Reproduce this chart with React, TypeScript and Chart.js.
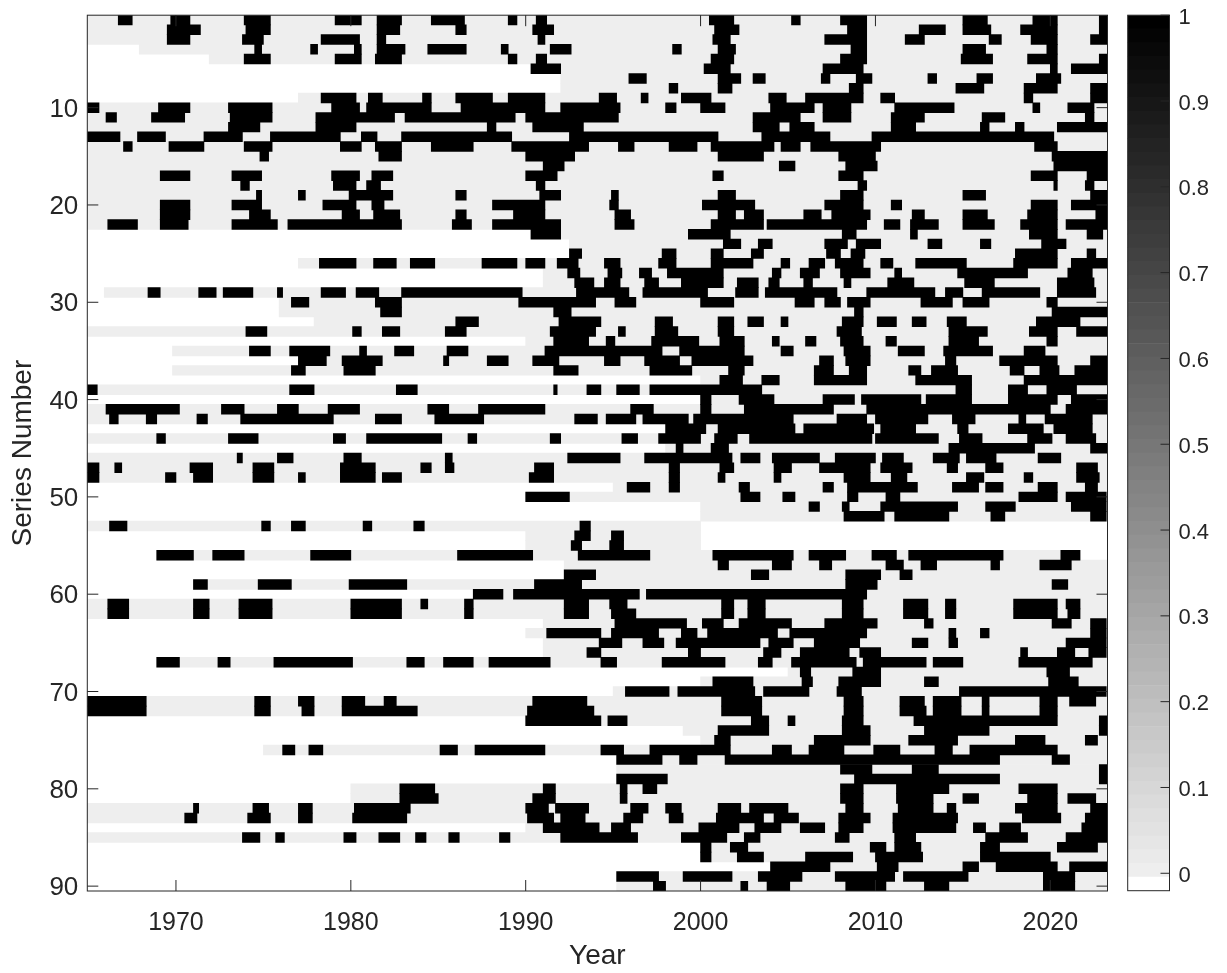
import React, { useEffect, useRef } from "react";
import { Chart, registerables } from "chart.js";

Chart.register(...registerables);

const E = 2023.3;
const xMin = 1964.93;
const xMax = 2023.27;
const xTickValues = [1970, 1980, 1990, 2000, 2010, 2020];
const yTickValues = [10, 20, 30, 40, 50, 60, 70, 80, 90];
const colorbarTicks = [0, 0.1, 0.2, 0.3, 0.4, 0.5, 0.6, 0.7, 0.8, 0.9, 1];

// first year with data for every series (white before it)
const seriesStart = [
  1964.9, 1964.9, 1964.9, 1967.9, 1971.9, 1992, 1992, 1992, 1977, 1964.9,
  1964.9, 1964.9, 1964.9, 1964.9, 1964.9, 1964.9, 1964.9, 1964.9, 1964.9, 1964.9,
  1964.9, 1964.9, 1992, 1992.5, 1992.5, 1977, 1991, 1991, 1965.9, 1975.9,
  1975.9, 1977.9, 1964.9, 1990, 1969.8, 1977, 1969.8, 2000, 1964.9, 2000,
  1964.9, 1964.9, 1998, 1964.9, 1998, 1964.9, 1964.9, 1964.9, 1995, 1990,
  2000, 2000, 1964.9, 1990, 1990, 1968.9, 1992.2, 1992.2, 1971, 1987,
  1964.9, 1964.9, 1991, 1990, 1991, 1991, 1968.9, 2005, 2000, 1995,
  1964.9, 1964.9, 1990, 1999, 2000, 1975, 1995.2, 1995.2, 1995.2, 1980,
  1980, 1964.9, 1964.9, 1990, 1964.9, 2000, 2000, 2004, 1995.2, 1995.2,
];

// last year with data, where a series stops before the end of the axis
const seriesEndExceptions: Record<number, number> = { 53: 2000, 54: 2000, 55: 2000, 56: 2021.7 };

// flat [start, end, start, end, ...] year pairs for value 1, per series
const activeSpans: number[][] = [
  [1966.7,1967.5,1969.7,1970.8,1973.9,1975.4,1979.1,1980.6,1981.5,1982.9,1984.6,1986.5,1989,1989.5,1990.6,1991.2,2000.5,2001.9,2005.2,2005.7,2008,2009.5,2015,2016.4,2019,2020.4,2022.8,E],
  [1969.5,1971.4,1974,1975.4,1981.5,1982.8,1986,1986.6,1990.4,1991.6,2000.8,2002.2,2008.4,2009.5,2012.5,2014,2015,2016.6,2018.3,2020.4,2022.8,E],
  [1969.5,1970.8,1973.8,1975,1978.3,1980.5,1981.5,1982,1990.7,1991.1,2000.7,2001.7,2007.1,2009.5,2011.7,2012.8,2016.5,2017.2,2018.9,2020.4,2022.3,E],
  [1974.5,1974.9,1977.7,1978.1,1980.2,1980.6,1981.5,1983.1,1984.4,1986.6,1988.6,1989,1991.4,1992.6,1998.4,1998.9,2001,2002,2008.6,2009.5,2015,2016.3,2019.8,2020.4],
  [1973.9,1975.4,1979.1,1980.6,1981.4,1982.9,1989,1989.5,1990.6,1991.2,2000.6,2001.9,2008,2009.5,2014.9,2016.7,2018.7,2020.4,2022.8,E],
  [1990.3,1992,2000.2,2001.7,2007,2009.3,2020,2020.4,2021.2,E],
  [1995.9,1996.9,2001,2002.3,2003,2003.7,2006.9,2007.4,2008.9,2009.8,2013,2013.5,2015.8,2016.7,2019.2,2020.6],
  [1998.2,1998.7,2001,2001.8,2008.5,2009.3,2014.6,2016.2,2018.5,2020.4,2022.3,E],
  [1978.3,1980.3,1981,1981.8,1984.1,1984.6,1986,1988.1,1989,1991.1,1994.2,1995.2,1996.6,1997,1998.9,2000.6,2003.9,2004.9,2006,2009.3,2010.3,2011.1,2018.5,2019,2022.3,E],
  [1964.9,1965.6,1969,1970.8,1973,1975.5,1978.9,1980.5,1980.9,1984.6,1986.3,1991.1,1992,1995.4,1998,1998.6,2000,2001.4,2004,2006.5,2007,2008.6,2011.1,2014.5,2019,2019.4,2021,2022.5],
  [1966,1966.6,1968.6,1970.5,1973.1,1975.5,1978,1982.5,1983.1,1989.4,1990,1995.3,2003,2005.7,2007,2008.6,2010.9,2012.8,2016.1,2017.4,2022,2022.5],
  [1973,1974.8,1978,1980.3,1987.8,1988.3,1990.4,1993.3,2003,2004.5,2005.1,2006.5,2010.9,2012.3,2016,2016.5,2018,2018.5,2020.4,E],
  [1964.9,1966.8,1967.8,1969.4,1971.6,1973.8,1975.4,1979.4,1980.6,1981.5,1982.9,1989.2,1992.5,2001,2003.5,2007.4,2009.8,2020.2],
  [1967,1967.5,1969.6,1971.6,1973.9,1975.5,1979.4,1980.6,1981.4,1982.9,1984.6,1987,1989.2,1993.6,1995.3,1996.2,1998.2,1999.8,2000.6,2004.2,2004.6,2005.7,2006.3,2010.3,2019.1,2020.4],
  [1974.8,1975.3,1981.6,1982.9,1990,1992.8,2001,2003.6,2007.9,2010,2020.1,E],
  [1991,1992.2,2004.5,2005.4,2008.3,2010.1,2020.2,E],
  [1969.1,1970.8,1973.2,1974.9,1978.9,1980.5,1981.2,1982.4,1990,1991.8,2000.7,2001.3,2007.9,2009.3,2018.9,2020.4,2022.1,E],
  [1973.7,1974.2,1979,1980.3,1980.9,1981.7,1990.6,1991.1,2009,2009.5,2020.2,2020.4,2022,2022.5],
  [1974.6,1974.9,1977,1977.4,1979.9,1982.4,1986,1986.6,1990.8,1992,1994.9,1995.3,2001,2002,2008,2009.3,2015,2016.3,2022.3,E],
  [1969.1,1970.8,1973.2,1974.9,1978.4,1980.3,1981.2,1981.9,1988.1,1991.1,1994.8,1995.3,2000.1,2003.1,2007.1,2009.3,2010.9,2011.5,2018.9,2020.4,2021.2,E],
  [1969.1,1970.8,1974.2,1975.4,1979.5,1980.5,1981.3,1982.8,1986,1986.6,1989.3,1991.1,1995.1,1996,2001,2002,2002.5,2003.6,2005.9,2006.9,2007.5,2009.7,2012.1,2012.8,2015,2016.4,2018.7,2020.4,2022.6,E],
  [1966.1,1967.8,1969.1,1970.7,1973.2,1975.8,1976.4,1982.9,1985.8,1986.9,1988.1,1992,1995.1,1996.2,2000.6,2003.6,2003.8,2009.5,2010.5,2011.4,2012,2013.6,2015,2016.8,2018.3,2020.4,2020.9,E],
  [1990.3,1992,1999.3,2001.7,2008.1,2008.9,2012,2012.4,2018.8,2020.4,2022.1,2023],
  [2001.3,2002.3,2003.3,2004.1,2007.1,2008.4,2008.9,2010.3,2013,2013.8,2016,2016.6,2019.5,2020.9],
  [1992.5,1993.2,1997.8,1998.6,2000.6,2001.3,2002.9,2003.6,2007.2,2008,2008.6,2009.4,2018,2020.4,2022.1,2022.6],
  [1978.2,1980.3,1981.3,1982.6,1983.4,1984.8,1987.5,1989.5,1990,1991.1,1991.8,1993,1994.5,1995.4,1997.6,1998.6,2000.6,2003,2004.6,2005.1,2006.2,2007.1,2007.7,2009.3,2010.3,2011,2012.3,2015.2,2017.9,2020.4,2021.2,E],
  [1992.4,1993.1,1994.7,1995.5,1996.5,1997.2,1998.1,2001.3,2004.1,2004.6,2005.7,2006.8,2008,2009.7,2011.1,2011.5,2014.7,2018.7,2021,2022.4],
  [1992.8,1993.9,1994.5,1995.4,1996.8,1997.6,1998.9,2001.3,2002.1,2003.3,2003.9,2004.5,2005.9,2006.4,2008.2,2008.6,2010.7,2012.2,2015.1,2016.8,2020.4,2022.5],
  [1968.4,1969.1,1971.3,1972.3,1972.7,1974.4,1975.8,1976.1,1978.3,1979.7,1980.3,1981.6,1982.9,1989.8,1992.9,1995.9,1996.7,2000.4,2002,2003.3,2003.7,2007.8,2009.5,2013.4,2014,2015,2016.1,2019.4,2020.4,2022.6],
  [1976.6,1977.6,1981.4,1982.9,1989.6,1994,1995.1,1996.3,2000,2001.9,2005.4,2006.5,2007.1,2008,2008.4,2009.7,2012.6,2014.4,2015,2016.5,2019.8,2020.4],
  [1981.7,1982.9,1991.6,1992.6,2008.8,2009.3,2020.1,E],
  [1986,1987.3,1991.9,1994.3,1997.4,1998.4,2001,2001.9,2002.7,2003.6,2004.6,2005,2008.1,2009.3,2010.1,2011.2,2012.1,2012.9,2014.1,2015.2,2019.2,2021.7],
  [1974,1975.2,1980.1,1980.6,1981.8,1982.8,1985.4,1986.6,1991.4,1994,1995.3,1995.7,1997.4,1998.7,2001,2001.9,2007.8,2009.2,2014.2,2016.4,2018.8,2020.4,2021.5,E],
  [1991.6,1993.6,1994.6,1995.1,1997.2,1999.9,2001.1,2002.5,2004.1,2004.5,2006,2006.6,2008,2009.3,2010.6,2011.2,2014.2,2015.9,2019.8,2020.4],
  [1974.2,1975.4,1976.5,1978.8,1980.5,1980.9,1982.5,1983.6,1985.5,1986.7,1991.1,1997.8,1998.8,2002.5,2004.6,2005.3,2008.2,2009.7,2011.3,2012.8,2013.9,2016.7,2018.5,2019.7],
  [1977,1978.6,1979.5,1981.8,1985.3,1985.6,1987.8,1989,1990.4,1991.9,1994.5,1995.4,1996.8,1998.8,1999.5,2003,2006.8,2007.6,2008.3,2009.7,2014,2014.6,2017.1,2020.4,2022.3,E],
  [1976.6,1977.4,1979.6,1981.4,1991.6,1993,1997.1,1999.5,2001.6,2002.5,2006.5,2007.6,2008.5,2009.5,2011.9,2012.6,2013.2,2014.7,2017.7,2018.5,2019.4,2020.5,2021.4,E],
  [2001.1,2002.4,2003.5,2004.5,2006.5,2009.5,2012.3,2015.5,2018.5,E],
  [1964.9,1965.5,1976.5,1977.9,1982.6,1983.8,1991.6,1991.8,1993.5,1994.3,1995.2,1996.5,1997.1,2003.5,2014.6,2015.5,2017.6,2018.7,2019.8,2021.5],
  [2000,2000.6,2002.2,2004.2,2007,2008.8,2009.2,2012.6,2012.9,2015.5,2017.6,2020.4,2021.2,E],
  [1966,1970.2,1972.6,1973.9,1975.8,1977,1978.7,1980.5,1984.4,1985.6,1987.3,1991.1,1996,1997.3,2000,2000.6,2002.5,2007.6,2009.5,2020,2020.9,E],
  [1966.2,1966.7,1968.3,1968.9,1971.2,1971.8,1973.7,1979,1981.4,1982.9,1984.8,1987.6,1992.8,1994.1,1994.6,1996.3,1996.7,1999.3,1999.6,2005.3,2007.8,2009.5,2010,2013,2014.4,2015.7,2018.2,2018.6,2019.7,2022.4],
  [1998,2000.3,2001,2005.4,2005.9,2009.9,2010.3,2012.3,2014.7,2015.3,2017.6,2019.6,2020.2,2022.4],
  [1968.9,1969.4,1973,1974.7,1979,1979.7,1980.9,1985.2,1986.7,1987.2,1991.4,1992,1995.5,1996.4,1997.6,2000,2000.8,2002.1,2002.8,2009.8,2010,2013.6,2014.8,2016.1,2018.7,2020.1,2020.9,2022.6],
  [1998.6,1999,2000.6,2001.6,2014.2,2019.1,2022.3,E],
  [1973.5,1973.8,1975.8,1976.7,1979.6,1980.6,1985.4,1985.8,1992.4,1995.4,1996.8,2001.8,2002.3,2003.4,2004.1,2006.8,2007.7,2010,2010.4,2011.6,2013.3,2014.8,2015.2,2016.9,2019.3,2020.6],
  [1964.9,1965.6,1966.5,1966.9,1970.8,1972.1,1974.4,1975.6,1979.4,1981.4,1984,1984.6,1985.4,1985.9,1990.5,1991.6,1998.2,1998.8,2001.1,2001.9,2004.2,2005.2,2006.8,2009.7,2010.3,2012.1,2014.1,2014.7,2016.3,2017.3,2021.5,2022.7],
  [1964.9,1965.6,1969.4,1970,1971,1972.1,1974.4,1975.6,1977,1977.4,1979.4,1981.4,1981.8,1982.9,1990.2,1991.6,1998.2,1998.8,2001,2001.4,2004.2,2004.6,2008.2,2009.7,2010.9,2011.8,2015.2,2016.2,2018.5,2019,2021.5,2022.8],
  [1995.8,1997.1,1998.2,1998.8,2002.2,2002.8,2007,2007.6,2008.4,2012.4,2014.4,2015.9,2016.3,2017.3,2019.3,2020.4,2022,2022.7],
  [1990,1992.5,2002.3,2003.4,2004.7,2005.4,2008.4,2009,2010.6,2011.4,2018.2,2020.4,2020.9,2023.2],
  [2006.2,2006.8,2008.1,2008.5,2010.3,2014.7,2016.3,2018,2021.2,2023.2],
  [2008.2,2010.5,2011.1,2014.2,2016.6,2017.4,2022.3,2023.2],
  [1966.2,1967.2,1974.9,1975.4,1976.6,1977.4,1980.7,1981.2,1983.6,1984.2,1993.1,1993.7],
  [1992.8,1993.7,1994.9,1995.6],
  [1992.6,1993.2,1994.8,1995.6],
  [1968.9,1971,1972.1,1973.9,1977.7,1980,1986.1,1990.4,1993,1997.1,2000.7,2005.3,2006.2,2008.3,2009.8,2011.2,2011.9,2017.3,2020.6,2021.7],
  [2001,2001.6,2004.1,2005.2,2006.8,2007.5,2010.6,2011.6,2012.6,2013.5,2016.6,2017.1,2019.4,2021.2],
  [1992.2,1994,2002.9,2003.9,2008.3,2010.3,2011.4,2012.1],
  [1971,1971.8,1974.7,1976.6,1979.9,1983.2,1990.5,1993.2,2008.3,2010.1,2020.1,2021],
  [1987,1988.7,1989.3,1996.5,1996.9,2009.5],
  [1966.1,1967.3,1971,1971.9,1973.6,1975.5,1980,1982.9,1984,1984.4,1986.5,1987,1992.2,1993.6,1994.8,1995.8,2001.2,2001.9,2002.7,2003.7,2008.1,2009.3,2011.6,2013,2014,2014.6,2017.9,2020.4,2020.9,2021.7],
  [1966.1,1967.3,1971,1971.9,1973.6,1975.5,1980,1982.9,1986.5,1987,1992.2,1993.6,1994.9,1996.3,2001.2,2001.9,2002.7,2003.7,2008.1,2009.3,2011.6,2013,2014,2014.6,2017.9,2020.4,2021,2021.7],
  [1995.1,1999.2,2000.1,2001.3,2002.2,2005.2,2007.1,2010.1,2012.8,2013.3,2020.1,2021.2,2022.3,2023.2],
  [1991.2,1994.3,1994.9,1997.6,1998.9,1999.8,2000.4,2004.4,2005.1,2009.5,2014.2,2014.6,2016,2016.5,2022.3,2023.2],
  [1994.2,1995.5,1996.7,1997.9,1998.6,2003.4,2003.9,2005.3,2006.5,2009.1,2012.1,2013,2014.2,2014.7,2020.9,2023.2],
  [1993.5,1994.3,1999.3,2000,2003.6,2004.6,2005.7,2008.5,2009.1,2010.3,2018.3,2018.7,2020.4,2021.4,2022.2,2023.2],
  [1968.9,1970.2,1972.4,1973.1,1975.6,1980.1,1983.2,1984.2,1985.3,1987,1987.9,1991.4,1994.3,1995.2,1997.8,2001.4,2003.3,2004.1,2005.2,2008.9,2009.3,2012.9,2013.3,2015,2018.2,2022.4],
  [2005.7,2006.3,2008.7,2010.3,2019.8,2021.1],
  [2000.7,2003,2005.8,2006.4,2007.9,2010.3,2012.8,2013.6,2019.9,2021.6],
  [1995.7,1998.2,1998.7,2003.1,2003.6,2006.2,2007.8,2009.2,2014.8,2023.2],
  [1964.9,1968.3,1974.5,1975.4,1977,1977.9,1979.5,1980.8,1981.9,1982.6,1990.4,1993.5,2001.2,2003.5,2008.2,2009.3,2011.4,2012.8,2013.3,2014.9,2016.1,2016.5,2019.4,2020.4,2021.1,2022.6],
  [1964.9,1968.3,1974.5,1975.4,1977.2,1977.9,1979.5,1983.8,1990.1,1993.9,2001.2,2003.5,2008.2,2009.3,2011.4,2012.9,2013.3,2014.9,2016.1,2016.5,2019.4,2020.4],
  [1990,1994.3,1994.7,1995.8,2002.9,2003.9,2005,2005.4,2008.1,2009.3,2012.2,2020.4,2022.8,E],
  [2001,2003.9,2008.1,2009.7,2012.8,2016.5,2022.8,E],
  [2000.8,2001.7,2006.5,2009.7,2011.9,2014.7,2018,2019.7,2022,2022.7],
  [1976.1,1976.8,1977.6,1978.4,1985.1,1986.1,1987.1,1991.1,1994.3,1995.6,1997.1,2001.7,2004.1,2005.2,2006.2,2008.2,2009.9,2011.4,2013.4,2014.4,2015.4,2020.4],
  [1995.2,1997.8,1998.8,1999.8,2001.4,2017.1,2020.1,2021.1],
  [2008,2009.8,2012.1,2013.6,2022.8,E],
  [1995.2,1998.1,2008.8,2017.1,2022.8,E],
  [1982.8,1984.8,1991,1991.7,1995.4,1995.8,1996.7,1997.5,2008,2009.3,2011.2,2014.2,2018.2,2020.4],
  [1982.8,1985,1990.4,1991.7,1995.4,1995.8,2008,2009.3,2011.2,2013.3,2015,2015.9,2018.7,2020.4,2021,2022.6],
  [1971,1971.3,1974.4,1975.3,1977,1977.8,1980.2,1983.4,1990,1991.3,1991.7,1993.6,1996,1997,1998,1998.9,2001,2002.3,2002.8,2005,2008.3,2009.3,2011.3,2013.3,2014.1,2014.6,2018,2020.4,2022.3,E],
  [1970.5,1971.2,1974.1,1975.4,1977,1977.8,1980.1,1983.2,1990.1,1991.6,1992,1993.4,1995.6,1996.7,1998.2,1999,2000.9,2003.6,2004.2,2005.6,2007.9,2009.7,2011,2014.7,2018.4,2020.6,2022,E],
  [1991,1994.2,1994.9,1996,1999.9,2002.2,2003.1,2004.6,2005.7,2007.1,2007.9,2009.3,2011,2014.6,2015.6,2016.3,2017.1,2018.3,2021.8,E],
  [1973.8,1974.8,1975.7,1976.2,1979.6,1980.3,1981.6,1982.8,1983.7,1984.3,1985.6,1986.2,1988.5,1989.1,1992,1996.4,1998.9,2001.5,2002.5,2003.4,2007.7,2008.5,2011.1,2012.3,2016.3,2018.7,2020.9,E],
  [2000,2000.6,2001.7,2002.7,2009.7,2010.6,2011.1,2012.6,2016,2017.1,2020.4,2022.7],
  [2000,2000.6,2002.1,2003.6,2006,2008.7,2010,2012.7,2016,2020],
  [2004,2007.4,2010.1,2011.3,2015,2015.9,2016.9,2020.4,2021.1,E],
  [1995.2,1997.6,1999,2001.8,2003.3,2005.8,2007.7,2011.1,2011.6,2015.3,2019.6,2021.4],
  [1997.3,1998,2002.3,2002.7,2003.8,2005.1,2008.3,2010.6,2012.8,2014.2,2019.6,2021.4],
];

const AXIS = "#262626";
const FONT = "'Liberation Sans', Arial, sans-serif";
const W = 1227;
const H = 973;

const frame = {
  id: "frame",
  afterDraw(chart: any) {
    const { ctx, chartArea: a } = chart;
    const len = 11;
    ctx.save();
    ctx.strokeStyle = AXIS;
    ctx.lineWidth = 1;
    ctx.strokeRect(a.left, a.top, a.right - a.left, a.bottom - a.top);
    ctx.beginPath();
    for (const t of chart.scales.x.ticks) {
      const px = chart.scales.x.getPixelForValue(t.value);
      ctx.moveTo(px, a.bottom); ctx.lineTo(px, a.bottom - len);
      ctx.moveTo(px, a.top); ctx.lineTo(px, a.top + len);
    }
    for (const t of chart.scales.y.ticks) {
      const py = chart.scales.y.getPixelForValue(t.value);
      ctx.moveTo(a.left, py); ctx.lineTo(a.left + len, py);
      ctx.moveTo(a.right, py); ctx.lineTo(a.right - len, py);
    }
    ctx.stroke();
    ctx.restore();
  },
};

const colorbarFrame = {
  id: "colorbarFrame",
  afterDraw(chart: any) {
    const { ctx, chartArea: a } = chart;
    ctx.save();
    ctx.strokeStyle = AXIS;
    ctx.lineWidth = 1;
    ctx.strokeRect(a.left, a.top, a.right - a.left, a.bottom - a.top);
    ctx.beginPath();
    for (const t of chart.scales.y.ticks) {
      const py = chart.scales.y.getPixelForValue(t.value);
      ctx.moveTo(a.right, py); ctx.lineTo(a.right - 9, py);
    }
    ctx.stroke();
    ctx.restore();
  },
};

export default function App() {
  const mainRef = useRef<HTMLCanvasElement>(null);
  const barRef = useRef<HTMLCanvasElement>(null);

  useEffect(() => {
    const coverage = seriesStart.map((s, i) => ({ x: [s, seriesEndExceptions[i + 1] ?? xMax], y: i + 1 }));
    const spans: { x: number[]; y: number }[] = [];
    activeSpans.forEach((row, i) => {
      for (let k = 0; k + 1 < row.length; k += 2) spans.push({ x: [row[k], row[k + 1]], y: i + 1 });
    });
    const barStyle = { grouped: false, barThickness: 9.8, borderWidth: 0, borderSkipped: false };
    const main = new Chart(mainRef.current!, {
      type: "bar",
      data: {
        datasets: [
          { data: spans as any, backgroundColor: "#000000", order: 1, ...barStyle },
          { data: coverage as any, backgroundColor: "#eeeeee", order: 2, ...barStyle },
        ],
      },
      options: {
        indexAxis: "y",
        responsive: false,
        animation: false,
        layout: { padding: { top: 15.2, right: W - 1107.5, left: 0, bottom: 0 } },
        plugins: { legend: { display: false }, tooltip: { enabled: false } },
        scales: {
          x: {
            type: "linear",
            position: "bottom",
            min: xMin,
            max: xMax,
            afterBuildTicks: (s: any) => { s.ticks = xTickValues.map((value) => ({ value })); },
            afterFit: (s: any) => { s.height = H - 891; s.paddingLeft = 0; s.paddingRight = 0; },
            grid: { display: false },
            border: { display: false },
            ticks: {
              autoSkip: false, maxRotation: 0, padding: 9, color: AXIS,
              font: { family: FONT, size: 25 },
              callback: (v: any) => String(v),
            },
            title: { display: true, text: "Year", color: AXIS, font: { family: FONT, size: 28 }, padding: { top: 0, bottom: 0 } },
          },
          y: {
            type: "linear",
            position: "left",
            reverse: true,
            offset: false,
            min: 0.5,
            max: 90.5,
            afterBuildTicks: (s: any) => { s.ticks = yTickValues.map((value) => ({ value })); },
            afterFit: (s: any) => { s.width = 87.3; s.paddingTop = 0; s.paddingBottom = 0; },
            grid: { display: false, offset: false },
            border: { display: false },
            ticks: {
              autoSkip: false, padding: 1, labelOffset: 2, color: AXIS,
              font: { family: FONT, size: 26 },
              callback: (v: any) => String(v),
            },
            title: { display: true, text: "Series Number", color: AXIS, font: { family: FONT, size: 28 }, padding: { top: 6, bottom: 0 } },
          },
        },
      },
      plugins: [frame],
    } as any);

    // 64-level grey colour map of the colour bar, from white to black
    const levels = 64;
    const lo = -0.0203;
    const hi = 1;
    const step = (hi - lo) / levels;
    const bands: any[] = [];
    for (let i = 0; i < levels; i++) {
      const g = i === 0 ? 255 : Math.round((238 * (levels - 1 - i)) / (levels - 2));
      bands.push({
        data: [[lo + i * step, lo + (i + 1) * step]],
        backgroundColor: `rgb(${g},${g},${g})`,
        grouped: false,
        categoryPercentage: 1,
        barPercentage: 1,
        borderWidth: 0,
        borderSkipped: false,
      });
    }
    const bar = new Chart(barRef.current!, {
      type: "bar",
      data: { labels: ["colour"], datasets: bands },
      options: {
        responsive: false,
        animation: false,
        layout: { padding: { top: 15.2, bottom: H - 890.7, left: 1127.7 - 1100, right: 0 } },
        plugins: { legend: { display: false }, tooltip: { enabled: false } },
        scales: {
          x: { display: false },
          y: {
            type: "linear",
            position: "right",
            min: lo,
            max: hi,
            afterBuildTicks: (s: any) => { s.ticks = colorbarTicks.map((value) => ({ value })); },
            afterFit: (s: any) => { s.width = 1227 - 1169.5; s.paddingTop = 0; s.paddingBottom = 0; },
            grid: { display: false },
            border: { display: false },
            ticks: {
              autoSkip: false, padding: 1, labelOffset: 2.5, color: AXIS,
              font: { family: FONT, size: 22 },
              callback: (v: any) => String(v),
            },
          },
        },
      },
      plugins: [colorbarFrame],
    } as any);

    return () => { main.destroy(); bar.destroy(); };
  }, []);

  return (
    <div style={{ position: "absolute", left: 0, top: 0, width: W, height: H, background: "#fff", overflow: "hidden" }}>
      <canvas ref={mainRef} width={W} height={H} style={{ position: "absolute", left: 0, top: 0 }} />
      <canvas ref={barRef} width={127} height={H} style={{ position: "absolute", left: 1100, top: 0 }} />
    </div>
  );
}
